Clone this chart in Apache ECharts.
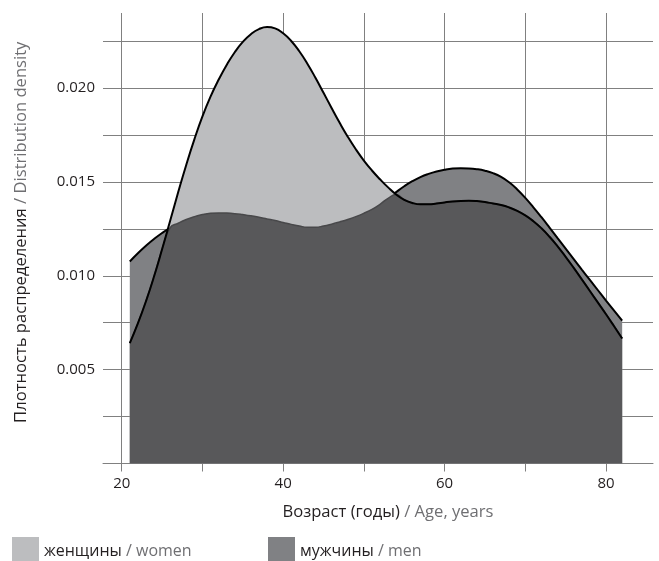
<!DOCTYPE html>
<html>
<head>
<meta charset="utf-8">
<script src="https://cdn.jsdelivr.net/npm/echarts@6/dist/echarts.min.js"></script>
<style>
  html, body { margin: 0; padding: 0; background: #ffffff; }
  #chart { width: 659px; height: 561px; }
</style>
</head>
<body>
<div id="chart"></div>
<script>
// Age (years) at which both density estimates are sampled
const ages = [
  21, 22, 23, 24, 25, 26, 27, 28, 29, 30,
  31, 32, 33, 34, 35, 36, 37, 38, 39, 40,
  41, 42, 43, 44, 45, 46, 47, 48, 49, 50,
  51, 52, 53, 54, 55, 56, 57, 58, 59, 60,
  61, 62, 63, 64, 65, 66, 67, 68, 69, 70,
  71, 72, 73, 74, 75, 76, 77, 78, 79, 80,
  81, 82
];

// Distribution density, women
const women = [
  0.00641, 0.00746, 0.00864, 0.00996, 0.01141, 0.01293, 0.01446, 0.01592, 0.01727, 0.01849,
  0.01954, 0.02044, 0.02123, 0.02191, 0.02246, 0.02287, 0.02314, 0.02325, 0.02318, 0.02292,
  0.02251, 0.02196, 0.02130, 0.02055, 0.01975, 0.01894, 0.01815, 0.01741, 0.01674, 0.01614,
  0.01561, 0.01514, 0.01471, 0.01433, 0.01405, 0.01388, 0.01381, 0.01381, 0.01385, 0.01391,
  0.01396, 0.01399, 0.01400, 0.01398, 0.01393, 0.01385, 0.01377, 0.01364, 0.01346, 0.01322,
  0.01291, 0.01253, 0.01208, 0.01157, 0.01101, 0.01042, 0.00981, 0.00919, 0.00857, 0.00795,
  0.00731, 0.00666
];

// Distribution density, men
const men = [
  0.01076, 0.01120, 0.01160, 0.01196, 0.01228, 0.01256, 0.01280, 0.01300, 0.01315, 0.01326,
  0.01333, 0.01335, 0.01334, 0.01331, 0.01326, 0.01320, 0.01312, 0.01303, 0.01294, 0.01284,
  0.01274, 0.01265, 0.01259, 0.01259, 0.01265, 0.01275, 0.01287, 0.01300, 0.01315, 0.01333,
  0.01354, 0.01381, 0.01413, 0.01446, 0.01477, 0.01504, 0.01526, 0.01543, 0.01556, 0.01565,
  0.01571, 0.01573, 0.01572, 0.01568, 0.01560, 0.01547, 0.01527, 0.01498, 0.01460, 0.01415,
  0.01365, 0.01312, 0.01257, 0.01201, 0.01145, 0.01089, 0.01033, 0.00978, 0.00923, 0.00868,
  0.00814, 0.00761
];

// Axis ticks, grid lines and labels
const xGridValues = [20, 30, 40, 50, 60, 70, 80];
const xLabelValues = [20, 40, 60, 80];
const yGridValues = [0, 0.0025, 0.005, 0.0075, 0.01, 0.0125, 0.015, 0.0175, 0.02, 0.0225];
const yLabelValues = [0.005, 0.01, 0.015, 0.02];

// Legend / series names (Russian) with English glosses
const seriesNames = ['женщины', 'мужчины'];
const seriesGloss = ['women', 'men'];

const FONT = '"Open Sans", "Noto Sans", sans-serif';
const INK = '#231f20';
const GLOSS = '#6f6f72';
const GRID = '#808080';
const WOMEN_FILL = '#bcbdbf';
const MEN_FILL = '#808184';
const BOTH_FILL = '#58585a';

const womenPts = ages.map((a, i) => [a, women[i]]);
const menPts = ages.map((a, i) => [a, men[i]]);
// region lying under both curves
const bothPts = ages.map((a, i) => [a, Math.min(women[i], men[i])]);

function rich(size) {
  return {
    a: { color: INK, fontSize: size, fontFamily: FONT },
    b: { color: GLOSS, fontSize: size, fontFamily: FONT }
  };
}

function legendFor(idx, left) {
  return {
    data: [{ name: seriesNames[idx], icon: 'rect',
             itemStyle: { color: idx === 0 ? WOMEN_FILL : MEN_FILL, borderWidth: 0 } }],
    left: left,
    top: 537,
    padding: 0,
    itemWidth: 27,
    itemHeight: 24,
    selectedMode: false,
    formatter: name => '{a|' + name + '}{b| / ' + seriesGloss[seriesNames.indexOf(name)] + '}',
    textStyle: { rich: rich(16), padding: [4, 0, 0, 0] }
  };
}

const lineBase = {
  type: 'line',
  smooth: 0.5,
  showSymbol: false,
  symbol: 'none',
  silent: true
};

const chart = echarts.init(document.getElementById('chart'), null, { renderer: 'canvas' });

chart.setOption({
  animation: false,
  backgroundColor: '#ffffff',
  grid: { left: 103, right: 6, top: 13, bottom: 97.5, containLabel: false },
  legend: [legendFor(0, 12), legendFor(1, 268)],
  xAxis: {
    type: 'value',
    min: 17.68,
    max: 85.82,
    name: '{a|Возраст (годы)}{b| / Age, years}',
    nameLocation: 'middle',
    nameGap: 40,
    nameTextStyle: { rich: rich(16.6), padding: [0, 0, 0, 20] },
    axisLine: { show: true, onZero: false, lineStyle: { color: GRID, width: 1 } },
    axisTick: { show: true, customValues: xGridValues, length: 8,
                lineStyle: { color: GRID, width: 1 } },
    axisLabel: { customValues: xLabelValues, margin: 13, color: INK,
                 fontSize: 15, fontFamily: FONT },
    splitLine: { show: true, lineStyle: { color: GRID, width: 1 } }
  },
  yAxis: {
    type: 'value',
    min: 0,
    max: 0.024,
    name: '{a|Плотность распределения}{b| / Distribution density}',
    nameLocation: 'middle',
    nameGap: 73,
    nameTextStyle: { rich: rich(16.6), padding: [0, 0, 0, 12] },
    axisLine: { show: false },
    axisTick: { show: false, customValues: yGridValues },
    axisLabel: { customValues: yLabelValues, margin: 8, color: INK,
                 fontSize: 15, fontFamily: FONT,
                 formatter: v => v.toFixed(3) },
    splitLine: { show: true, lineStyle: { color: GRID, width: 1 } }
  },
  series: [
    Object.assign({}, lineBase, {
      name: seriesNames[1], z: 2, data: menPts,
      itemStyle: { color: MEN_FILL },
      lineStyle: { width: 0, color: MEN_FILL },
      areaStyle: { color: MEN_FILL, opacity: 1 }
    }),
    Object.assign({}, lineBase, {
      name: 'men-outline', z: 3, data: menPts,
      lineStyle: { width: 2, color: '#000000' }
    }),
    Object.assign({}, lineBase, {
      name: seriesNames[0], z: 4, data: womenPts,
      itemStyle: { color: WOMEN_FILL },
      lineStyle: { width: 0, color: WOMEN_FILL },
      areaStyle: { color: WOMEN_FILL, opacity: 1 }
    }),
    Object.assign({}, lineBase, {
      name: 'both', z: 5, data: bothPts,
      lineStyle: { width: 1.5, color: '#48484a' },
      areaStyle: { color: BOTH_FILL, opacity: 1 }
    }),
    Object.assign({}, lineBase, {
      name: 'women-outline', z: 6, data: womenPts,
      lineStyle: { width: 2, color: '#000000' }
    })
  ]
});
</script>
</body>
</html>
